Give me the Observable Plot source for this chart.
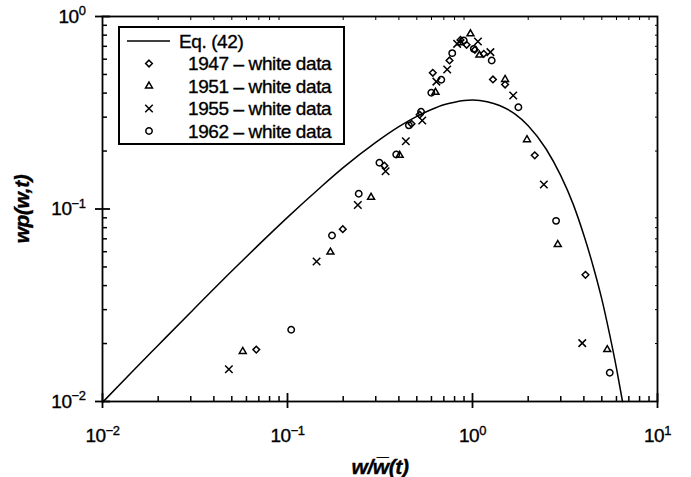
<!DOCTYPE html>
<html><head><meta charset="utf-8">
<script src="https://cdn.jsdelivr.net/npm/d3@7"></script>
<script src="https://cdn.jsdelivr.net/npm/@observablehq/plot@0.6"></script>
<style>
body{margin:0;background:#fff;}
#chart{position:relative;width:691px;height:477px;}
#legend{position:absolute;left:0;top:0;}
svg text{letter-spacing:-0.4px;stroke:black;stroke-width:0.35px;}
</style></head><body><div id="chart"></div>
<script>
// Eq. (42) curve
const curveX = [0.01,0.015,0.02,0.03,0.05,0.07,0.1,0.15,0.2,0.3,0.4,0.5,0.6,0.7,0.8,0.9,1.0,1.2,1.4,1.7,2.0,2.5,3.0,3.5,4.0,4.5,5.0,5.5,6.0,6.47];
const curveY = [0.0099,0.0148,0.0196,0.0291,0.0476,0.0653,0.0905,0.129,0.164,0.222,0.268,0.303,0.329,0.348,0.359,0.366,0.368,0.361,0.345,0.311,0.271,0.205,0.149,0.106,0.073,0.050,0.034,0.0225,0.0149,0.0100];

const x1947 = [0.0678,0.199,0.334,0.468,0.518,0.610,0.751,0.861,0.929,1.03,1.15,1.29,1.50,2.17,4.08];
const y1947 = [0.0186,0.0786,0.168,0.277,0.309,0.510,0.591,0.756,0.713,0.671,0.640,0.471,0.443,0.190,0.0455];
const x1951 = [0.0573,0.1706,0.283,0.404,0.631,0.86,0.975,1.09,1.50,1.97,2.89,5.35];
const y1951 = [0.0182,0.0597,0.115,0.190,0.404,0.73,0.813,0.63,0.471,0.229,0.0654,0.0186];
const x1955 = [0.0482,0.1436,0.240,0.339,0.436,0.535,0.638,0.730,0.826,1.07,1.25,1.66,2.43,3.92];
const y1955 = [0.0147,0.0534,0.105,0.157,0.225,0.288,0.459,0.531,0.721,0.741,0.653,0.389,0.134,0.0201];
const x1962 = [0.1047,0.174,0.2427,0.314,0.387,0.453,0.527,0.599,0.678,0.777,0.897,1.016,1.27,1.77,2.83,5.52];
const y1962 = [0.0236,0.0728,0.120,0.174,0.192,0.272,0.320,0.402,0.469,0.645,0.750,0.679,0.591,0.338,0.0868,0.0141];

const xMajor = [0.01,0.1,1,10];
const yMajor = [0.01,0.1,1];
const legendLabels = ["Eq. (42)","1947 \u2013 white data","1951 \u2013 white data","1955 \u2013 white data","1962 \u2013 white data"];
const xTitle = "w/w\u0305(t)";
const yTitle = "wp(w,t)";

const FONT = '"Liberation Sans",Arial,Helvetica,sans-serif';

const minorOf = (lo, hi) => { const out=[]; for (let e=lo;e<hi;e++) for (let m=2;m<=9;m++) out.push(m*Math.pow(10,e)); return out; };
const xMinor = minorOf(-2,1);
const yMinor = minorOf(-2,0);

const curve = curveX.map((x,i)=>({x, y: curveY[i]}));
const mk = (xs,ys)=>xs.map((x,i)=>({x,y:ys[i]}));
const series = [
  {data: mk(x1947,y1947), symbol:"diamond2", r:3.0},
  {data: mk(x1951,y1951), symbol:"triangle2", r:3.3},
  {data: mk(x1955,y1955), symbol:"times", r:3.5},
  {data: mk(x1962,y1962), symbol:"circle", r:3.2}
];
const fmt = d => "10^" + Math.round(Math.log10(d));
const blank = () => "";

const plot = Plot.plot({
  width: 691, height: 477,
  marginLeft: 102, marginRight: 34, marginTop: 16, marginBottom: 76,
  style: {fontFamily: FONT, fontSize: "19px", background: "white", color: "black"},
  x: {type: "log", domain: [0.01, 10], axis: null},
  y: {type: "log", domain: [0.01, 1], axis: null},
  marks: [
    // bottom axis
    Plot.axisX({ticks: xMajor, tickSize: 0, tickPadding: 27, tickFormat: fmt, label: null, fontSize: 19}),
    Plot.axisX({ticks: xMajor, tickSize: 7, tickFormat: blank, label: null, strokeWidth: 1.8}),
    Plot.axisX({ticks: xMajor, tickSize: -8, tickFormat: blank, label: null, strokeWidth: 1.8}),
    Plot.axisX({ticks: xMinor, tickSize: -5, tickFormat: blank, label: null, strokeWidth: 1.5}),
    // top axis (small inward ticks)
    Plot.axisX({anchor: "top", ticks: xMinor, tickSize: -3, tickFormat: blank, label: null, strokeWidth: 1}),
    // left axis
    Plot.axisY({ticks: yMajor, tickSize: 0, tickPadding: 17, tickFormat: fmt, label: null, fontSize: 19}),
    Plot.axisY({ticks: yMajor, tickSize: 7, tickFormat: blank, label: null, strokeWidth: 1.8}),
    Plot.axisY({ticks: yMajor, tickSize: -8, tickFormat: blank, label: null, strokeWidth: 1.8}),
    Plot.axisY({ticks: yMinor, tickSize: -5, tickFormat: blank, label: null, strokeWidth: 1.5}),
    // right axis (small inward ticks)
    Plot.axisY({anchor: "right", ticks: yMinor, tickSize: -3, tickFormat: blank, label: null, strokeWidth: 1}),
    Plot.frame({stroke: "black", strokeWidth: 1.8}),
    Plot.line(curve, {x: "x", y: "y", stroke: "black", strokeWidth: 1.5, curve: "monotone-x"}),
    ...series.map(s => Plot.dot(s.data, {x: "x", y: "y", symbol: () => s.symbol, r: s.r, stroke: "black", strokeWidth: 1.5, fill: "none"})),
    Plot.text([xTitle], {frameAnchor: "bottom", dy: 72, textAnchor: "middle", lineAnchor: "bottom", text: d => d, fontSize: 21, fontStyle: "italic", fontWeight: "bold"}),
    Plot.text([yTitle], {frameAnchor: "left", dx: -80, rotate: -90, textAnchor: "middle", lineAnchor: "middle", text: d => d, fontSize: 21, fontStyle: "italic", fontWeight: "bold"})
  ]
});

// superscript exponents in tick labels
d3.select(plot).selectAll("text").each(function() {
  const t = this.textContent;
  const m = /^10\^(-?\d+)$/.exec(t);
  if (!m) return;
  const sel = d3.select(this);
  const target = this.querySelector("tspan") ? d3.select(this.querySelector("tspan")) : sel;
  target.text("10");
  target.append("tspan").attr("dy", "-0.55em").attr("font-size", "0.68em").text(m[1].replace("-", "\u2212"));
});

document.getElementById("chart").appendChild(plot);

// legend (inside the plot frame, top-left)
const lg = d3.select("#chart").append("svg").attr("id", "legend").attr("width", 691).attr("height", 477)
  .style("font-family", FONT).style("font-size", "19px");
lg.append("rect").attr("x", 119).attr("y", 27).attr("width", 225).attr("height", 117)
  .attr("fill", "white").attr("stroke", "black").attr("stroke-width", 2);
const rowY = [41, 63.5, 86, 108.5, 131];
lg.append("line").attr("x1", 127).attr("x2", 170).attr("y1", rowY[0]).attr("y2", rowY[0]).attr("stroke", "black").attr("stroke-width", 1.5);
lg.append("text").attr("x", 179).attr("y", rowY[0]).attr("dy", "0.36em").text(legendLabels[0]);
const symMap = {diamond2: d3.symbolDiamond2, triangle2: d3.symbolTriangle2, times: d3.symbolTimes, circle: d3.symbolCircle};
series.forEach((s, i) => {
  const y = rowY[i+1];
  lg.append("path").attr("transform", `translate(149,${y})`)
    .attr("d", d3.symbol(symMap[s.symbol], Math.PI * s.r * s.r)())
    .attr("fill", "none").attr("stroke", "black").attr("stroke-width", 1.5);
  lg.append("text").attr("x", 188).attr("y", y).attr("dy", "0.36em").text(legendLabels[i+1]);
});
</script>
</body></html>
